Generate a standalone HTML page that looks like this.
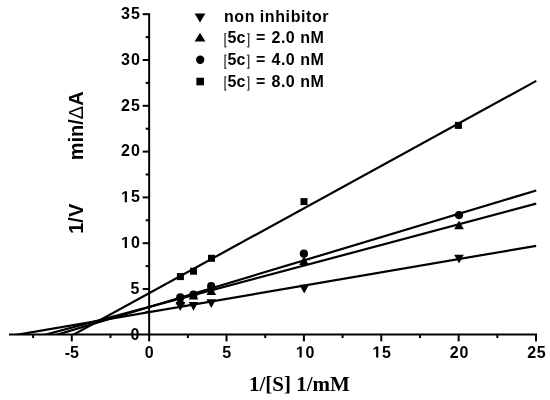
<!DOCTYPE html><html><head><meta charset="utf-8"><style>html,body{margin:0;padding:0;background:#fff;}svg{display:block;will-change:transform}</style></head><body>
<svg width="550" height="400" viewBox="0 0 550 400">
<rect width="550" height="400" fill="#fff"/>
<defs><clipPath id="pc"><rect x="9" y="0" width="530" height="334.80"/></clipPath></defs>
<g clip-path="url(#pc)" stroke="#000" stroke-width="2.20" fill="none">
<line x1="0.00" y1="337.65" x2="536.20" y2="245.80"/>
<line x1="0.00" y1="346.77" x2="536.20" y2="203.60"/>
<line x1="0.00" y1="351.90" x2="536.20" y2="190.50"/>
<line x1="0.00" y1="374.95" x2="536.30" y2="80.90"/>
</g>
<g stroke="#000" stroke-width="2.00" fill="none" stroke-linecap="butt">
<line x1="149.15" y1="13.20" x2="149.15" y2="334.60"/>
<line x1="9" y1="334.60" x2="537.02" y2="334.60"/>
<line x1="145.65" y1="311.90" x2="149.15" y2="311.90"/>
<line x1="142.65" y1="289.00" x2="149.15" y2="289.00"/>
<line x1="145.65" y1="266.10" x2="149.15" y2="266.10"/>
<line x1="142.65" y1="243.20" x2="149.15" y2="243.20"/>
<line x1="145.65" y1="220.30" x2="149.15" y2="220.30"/>
<line x1="142.65" y1="197.40" x2="149.15" y2="197.40"/>
<line x1="145.65" y1="174.50" x2="149.15" y2="174.50"/>
<line x1="142.65" y1="151.60" x2="149.15" y2="151.60"/>
<line x1="145.65" y1="128.70" x2="149.15" y2="128.70"/>
<line x1="142.65" y1="105.80" x2="149.15" y2="105.80"/>
<line x1="145.65" y1="82.90" x2="149.15" y2="82.90"/>
<line x1="142.65" y1="60.00" x2="149.15" y2="60.00"/>
<line x1="145.65" y1="37.10" x2="149.15" y2="37.10"/>
<line x1="142.65" y1="14.20" x2="149.15" y2="14.20"/>
<line x1="33.09" y1="334.60" x2="33.09" y2="338.10"/>
<line x1="71.78" y1="334.60" x2="71.78" y2="341.40"/>
<line x1="110.46" y1="334.60" x2="110.46" y2="338.10"/>
<line x1="149.15" y1="334.60" x2="149.15" y2="341.40"/>
<line x1="187.84" y1="334.60" x2="187.84" y2="338.10"/>
<line x1="226.53" y1="334.60" x2="226.53" y2="341.40"/>
<line x1="265.21" y1="334.60" x2="265.21" y2="338.10"/>
<line x1="303.90" y1="334.60" x2="303.90" y2="341.40"/>
<line x1="342.59" y1="334.60" x2="342.59" y2="338.10"/>
<line x1="381.27" y1="334.60" x2="381.27" y2="341.40"/>
<line x1="419.96" y1="334.60" x2="419.96" y2="338.10"/>
<line x1="458.65" y1="334.60" x2="458.65" y2="341.40"/>
<line x1="497.34" y1="334.60" x2="497.34" y2="338.10"/>
<line x1="536.02" y1="334.60" x2="536.02" y2="341.40"/>
</g>
<g font-family="&quot;Liberation Sans&quot;, sans-serif" font-weight="bold" font-size="16" fill="#000">
<text x="130.60" y="339.50">0</text>
<text x="130.60" y="293.70">5</text>
<path transform="translate(121.00,248.00) scale(0.007812,-0.007812)" d="M478,0L478,1170L140,959L140,1180L493,1409L759,1409L759,0Z"/>
<text x="131.10" y="248.00">0</text>
<path transform="translate(121.00,202.20) scale(0.007812,-0.007812)" d="M478,0L478,1170L140,959L140,1180L493,1409L759,1409L759,0Z"/>
<text x="131.10" y="202.20">5</text>
<text x="121.00" y="156.40">2</text>
<text x="131.10" y="156.40">0</text>
<text x="121.00" y="110.60">2</text>
<text x="131.10" y="110.60">5</text>
<text x="121.00" y="64.80">3</text>
<text x="131.10" y="64.80">0</text>
<text x="121.00" y="19.00">3</text>
<text x="131.10" y="19.00">5</text>
<text x="64.76" y="357.60">-</text>
<text x="70.09" y="357.60">5</text>
<text x="144.80" y="357.60">0</text>
<text x="222.18" y="357.60">5</text>
<path transform="translate(295.80,357.60) scale(0.007812,-0.007812)" d="M478,0L478,1170L140,959L140,1180L493,1409L759,1409L759,0Z"/>
<text x="305.50" y="357.60">0</text>
<path transform="translate(372.38,357.60) scale(0.007812,-0.007812)" d="M478,0L478,1170L140,959L140,1180L493,1409L759,1409L759,0Z"/>
<text x="382.07" y="357.60">5</text>
<text x="449.75" y="357.60">2</text>
<text x="459.45" y="357.60">0</text>
<text x="527.13" y="357.60">2</text>
<text x="536.82" y="357.60">5</text>
</g>
<g fill="#000">
<polygon points="175.50,302.10 185.10,302.10 180.30,310.90"/>
<polygon points="188.70,301.90 198.30,301.90 193.50,310.70"/>
<polygon points="206.50,299.20 216.10,299.20 211.30,308.00"/>
<polygon points="299.40,284.70 309.00,284.70 304.20,293.50"/>
<polygon points="454.20,254.80 463.80,254.80 459.00,263.60"/>
<polygon points="180.30,295.60 185.10,304.40 175.50,304.40"/>
<polygon points="193.50,290.60 198.30,299.40 188.70,299.40"/>
<polygon points="211.30,286.10 216.10,294.90 206.50,294.90"/>
<polygon points="304.00,256.10 308.80,264.90 299.20,264.90"/>
<polygon points="459.00,220.40 463.80,229.20 454.20,229.20"/>
<circle cx="180.30" cy="297.40" r="4.10"/>
<circle cx="193.50" cy="294.60" r="4.10"/>
<circle cx="211.20" cy="286.20" r="4.10"/>
<circle cx="303.90" cy="253.70" r="4.10"/>
<circle cx="459.00" cy="215.10" r="4.10"/>
<rect x="176.90" y="273.10" width="7.00" height="7.00"/>
<rect x="190.00" y="267.70" width="7.00" height="7.00"/>
<rect x="208.00" y="254.80" width="7.00" height="7.00"/>
<rect x="300.50" y="198.10" width="7.00" height="7.00"/>
<rect x="454.90" y="121.90" width="7.00" height="7.00"/>
</g>
<g fill="#000">
<polygon points="194.60,13.60 205.40,13.60 200.00,22.40"/>
<polygon points="200.00,32.80 205.40,41.60 194.60,41.60"/>
<circle cx="200.20" cy="59.80" r="4.20"/>
<rect x="196.40" y="77.70" width="7.60" height="7.60"/>
</g>
<g font-family="&quot;Liberation Sans&quot;, sans-serif" font-weight="bold" font-size="16" fill="#000">
<text y="21.6"><tspan x="223.9" letter-spacing="0.6">non</tspan><tspan x="259.80" letter-spacing="0.60">inhibitor</tspan></text>
<text x="227.6" y="43.10">5c</text>
<text x="256.00" y="43.10">=</text>
<text x="271.50" y="43.10" letter-spacing="0.5">2.0</text>
<text x="300.20" y="43.10" letter-spacing="0.6">nM</text>
<polyline points="226.4,33.60 225.0,33.60 225.0,46.70 226.4,46.70" fill="none" stroke="#444" stroke-width="1.4"/>
<polyline points="247.2,33.60 248.7,33.60 248.7,46.70 247.2,46.70" fill="none" stroke="#444" stroke-width="1.4"/>
<text x="227.6" y="64.70">5c</text>
<text x="256.00" y="64.70">=</text>
<text x="271.50" y="64.70" letter-spacing="0.5">4.0</text>
<text x="300.20" y="64.70" letter-spacing="0.6">nM</text>
<polyline points="226.4,55.20 225.0,55.20 225.0,68.30 226.4,68.30" fill="none" stroke="#444" stroke-width="1.4"/>
<polyline points="247.2,55.20 248.7,55.20 248.7,68.30 247.2,68.30" fill="none" stroke="#444" stroke-width="1.4"/>
<text x="227.6" y="86.50">5c</text>
<text x="256.00" y="86.50">=</text>
<text x="271.50" y="86.50" letter-spacing="0.5">8.0</text>
<text x="300.20" y="86.50" letter-spacing="0.6">nM</text>
<polyline points="226.4,77.00 225.0,77.00 225.0,90.10 226.4,90.10" fill="none" stroke="#444" stroke-width="1.4"/>
<polyline points="247.2,77.00 248.7,77.00 248.7,90.10 247.2,90.10" fill="none" stroke="#444" stroke-width="1.4"/>
</g>
<text transform="translate(249,391.0) scale(1.05,1)" font-family="&quot;Liberation Serif&quot;, serif" font-weight="bold" font-size="20" fill="#000">1/[S] 1/mM</text>
<g font-family="&quot;Liberation Sans&quot;, sans-serif" font-weight="bold" font-size="20.0" fill="#000">
<text transform="translate(83.00,160.30) rotate(-90)">min/<tspan font-weight="normal">Δ</tspan>A</text>
<text transform="translate(83.00,233.80) rotate(-90)">1/V</text>
</g>
</svg></body></html>
